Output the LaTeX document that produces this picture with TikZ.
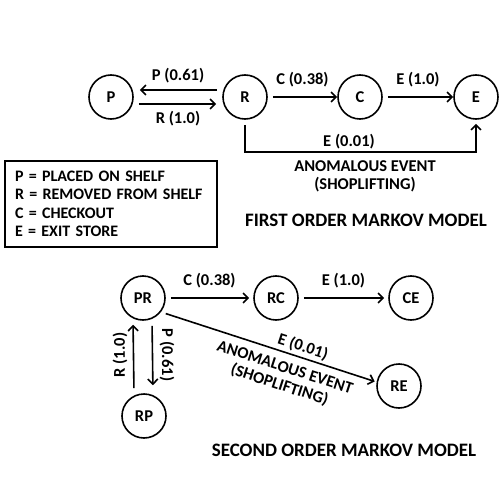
\documentclass[tikz,border=0pt]{standalone}
\usepackage{fontspec}
\setmainfont{Carlito}
\usetikzlibrary{arrows.meta,positioning}

\tikzset{etat/.style = {circle, draw, line width=1.6pt, minimum size=44pt, inner sep=0pt,
                        font=\fontsize{16.5}{18}\selectfont\bfseries},
         trans/.style = {line width=1.6pt, shorten <=5pt,
                         -{Straight Barb[length=5pt,width=10pt,line width=1.6pt]}},
         lbl/.style = {font=\fontsize{16.5}{18}\selectfont\bfseries, inner sep=0pt},
         titre/.style = {font=\fontsize{19}{22}\selectfont\bfseries, inner sep=0pt}
        }

\begin{document}
\begin{tikzpicture}[x=1pt, y=-1pt]
  \useasboundingbox (0,0) rectangle (503,492);
  % premier ordre
  \node[etat] (P) at (111,97) {P};
  \node[etat] (R) at (245,97) {R};
  \node[etat] (C) at (360,97) {C};
  \node[etat] (E) at (476,97) {E};
  \coordinate (bas) at (0,152);

  \draw[trans, shorten >=6pt] ([yshift=7pt]R.west) -- ([yshift=7pt]P.east)
        node[lbl, midway, above=6pt] {P (0.61)};
  \draw[trans, shorten >=6pt] ([yshift=-7pt]P.east) -- ([yshift=-7pt]R.west)
        node[lbl, midway, below=6pt] {R (1.0)};
  \draw[trans] (R) -- (C) node[lbl, midway, above=9pt] {C (0.38)};
  \draw[trans] (C) -- (E) node[lbl, midway, above=9pt] {E (1.0)};
  \draw[trans, shorten >=4pt] (R.south) |- (bas -| E) -- (E.south);
  \node[lbl] (e1) at (349,142) {E (0.01)};
  \node[lbl, align=center] (anom1) at (365,176) {ANOMALOUS EVENT\\(SHOPLIFTING)};

  \node[draw, line width=1.6pt, align=left, text width=192pt, inner sep=10pt,
        minimum height=86pt, font=\fontsize{16}{18.4}\selectfont\bfseries] (legende) at (111,204)
        {P = PLACED ON SHELF\\R = REMOVED FROM SHELF\\C = CHECKOUT\\E = EXIT STORE};
  \node[titre] (titre1) at (366,220) {FIRST ORDER MARKOV MODEL};

  % second ordre
  \node[etat] (PR) at (143,298) {PR};
  \node[etat] (RC) at (276,298) {RC};
  \node[etat] (CE) at (411,298) {CE};
  \node[etat] (RE) at (399,386) {RE};
  \node[etat] (RP) at (144,416) {RP};

  \draw[trans, shorten >=4pt] (PR) -- (RC) node[lbl, midway, above=9pt] {C (0.38)};
  \draw[trans, shorten >=4pt] (RC) -- (CE) node[lbl, midway, above=9pt] {E (1.0)};
  \draw[trans, shorten >=4pt] ([xshift=-10pt]RP.north) -- ([xshift=-10pt]PR.south);
  \draw[trans, shorten >=8pt] ([xshift=9pt]PR.south) -- ([xshift=9pt]RP.north);
  \node[lbl, rotate=90] (r2) at (120,355) {R (1.0)};
  \node[lbl, rotate=-90] (p2) at (167,355) {P (0.61)};
  \draw[trans, shorten >=2pt] (PR.-38) -- (RE.170);
  \node[lbl, rotate=-18] (e2) at (303,347) {E (0.01)};
  \node[lbl, align=center, rotate=-18] (anom2) at (282,377)
        {ANOMALOUS EVENT\\(SHOPLIFTING)};
  \node[titre] (titre2) at (344,450) {SECOND ORDER MARKOV MODEL};
\end{tikzpicture}
\end{document}
